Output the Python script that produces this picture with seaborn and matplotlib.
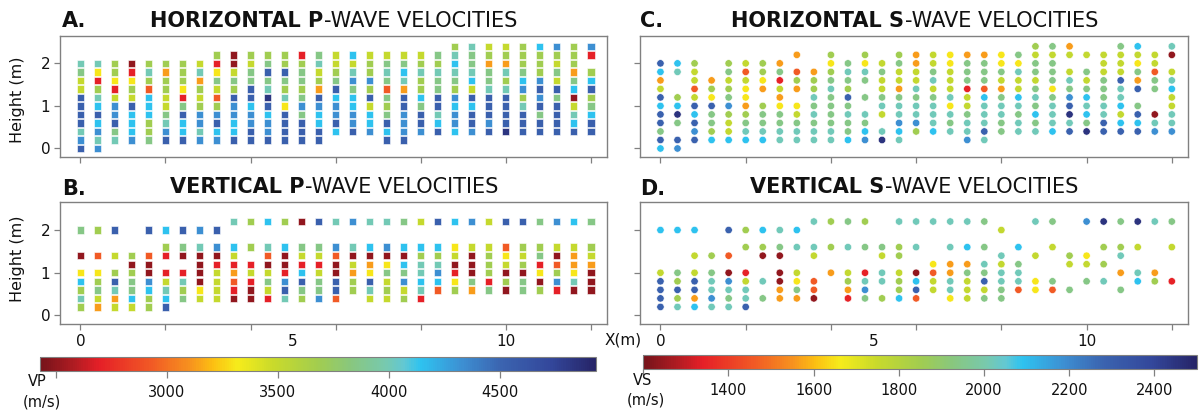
import numpy as np
import pandas as pd
import matplotlib
matplotlib.use("Agg")
import matplotlib.pyplot as plt
import seaborn as sns
from matplotlib.colors import LinearSegmentedColormap, Normalize
from matplotlib.cm import ScalarMappable

sns.set_style("white")
plt.rcParams["font.family"] = ["DejaVu Sans"]

# ---------------- data ----------------
X_POS = [0.0, 0.4, 0.8, 1.2, 1.6, 2.0, 2.4, 2.8, 3.2, 3.6, 4.0, 4.4, 4.8, 5.2, 5.6,
         6.0, 6.4, 6.8, 7.2, 7.6, 8.0, 8.4, 8.8, 9.2, 9.6, 10.0, 10.4, 10.8, 11.2,
         11.6, 12.0]
Y_ROWS = [2.4, 2.2, 2.0, 1.8, 1.6, 1.4, 1.2, 1.0, 0.8, 0.6, 0.4, 0.2, 0.0]

# colour class codes (slow -> fast) and the velocity each class stands for
CODES = "0123456789ABC"
VP_LEVELS = [2500, 2700, 2930, 3130, 3300, 3500, 3680, 3850, 4000, 4140, 4330, 4530, 4830]
VS_LEVELS = [1240, 1345, 1460, 1565, 1655, 1760, 1850, 1940, 2020, 2090, 2190, 2290, 2450]

# one string per x column, read top (2.4 m) to bottom (0 m); '.' = no measurement
HP_COLS = ["..8755BBBB8AB", "..841689B9A8A", "..66415AAB78.", "..01465B999A.",
           "..6862999667.", "..63665578AB.", "..666417B99B.", "..583656AA8A.",
           ".6147526AB9A.", ".00576BAA99B.", ".6577BB9AABB.", ".67B78CB9AAB.",
           ".66B7684BBBB.", ".167767A7BBB.", ".78563BA99BB.", ".5567B9AAB9..",
           ".958A799AAB..", ".566A6B599A..", ".57872767B9B.", ".57983BBAAAB.",
           ".5686697BBA..", ".76877BB89B..", "689876A9AA9..", "877895B9BBA..",
           "563778BBBAB..", "563868BBBBC..", "66679A68BBB..", "9666ABAB7BB..",
           "A6575B7BBBB..", "6663790589B..", "A1.69B679BB.."]
VP_COLS = ["..7..0.49686.", "..6..2.46753.", "..B..5.6B835.", ".....6067795.",
           "..B..200A966.", "..9.61.1589B.", "..B.70.1867..", "..A.8000045..",
           "..B.A015555..", ".8..9513210..", ".6..6.15100..", ".9..8205751..",
           ".6..9001AB8..", ".0..7519B76..", ".B..751577A..", ".8..A200BB2..",
           ".A..805366...", ".8..9034B85..", ".8..A047565..", ".7..9097A56..",
           ".5..9688981..", ".B..968A92...", ".9..450146...", ".A..500073...",
           ".5..566617...", ".B..245060...", ".B..656077...", ".7..671406...",
           ".A..5026A1...", ".9..533480...", ".7..653000..."]
HS_COLS = ["..B935B9BB7B9", "..98..69C7.BA", "..65525B9BAB.", "....364B7769.",
           "..67567A6559.", "..5254436789.", "..6643.67789.", "..3715347788.",
           ".3.263.45788.", "...366878788.", ".64678777788.", "..7876B78779.",
           ".6487.7.879A.", "..5755785.8C.", ".67553788A98.", ".33558788A6..",
           ".5578578889..", ".4455584878..", ".3777155788A.", ".377729888B8.",
           ".4475378877..", ".7485598788..", "65775787978..", "75777478889..",
           "35.587ABC8B..", ".5.7579897C..", ".55577788BB..", "7555B88959B..",
           "95473B.7B9B..", ".55277..08A..", "80.5895588A.."]
VS_COLS = ["..9....5BBBB.", "..9....76B68.", "..9..5.5BB39.", ".....6.788A8.",
           "..B..2.0A878.", "..6.6..1588B.", "..9.60..8.7..", "..8.70.0033..",
           "..9.8..5473..", ".8..85..220..", ".6..6..3.....", ".7..8..5631..",
           ".6..7..18A7..", "....75.88.6..", ".8..66.5669..", ".8..8..09B2..",
           ".8....4255...", ".8..8.33884..", ".8..9.37555..", ".7..7.87B57..",
           "..5..858877..", "....9.7882...", ".8...5..44...", ".7..5...72...",
           ".....65..7...", ".A...45.7....", ".C..6.6.8....", ".7..68.3.7...",
           ".C..5..89....", ".8.....36....", ".7..5...1...."]

VP_RANGE = (2430, 4930)
VS_RANGE = (1200, 2500)
VP_TICKS = [2500, 3000, 3500, 4000, 4500]
VP_TICKLABELS = ["", "3000", "3500", "4000", "4500"]
VS_TICKS = [1200, 1400, 1600, 1800, 2000, 2200, 2400]
VS_TICKLABELS = ["", "1400", "1600", "1800", "2000", "2200", "2400"]


def to_df(cols, levels):
    rows = []
    for xv, col in zip(X_POS, cols):
        for yv, ch in zip(Y_ROWS, col):
            if ch in CODES:
                rows.append((xv, yv, levels[CODES.index(ch)]))
    return pd.DataFrame(rows, columns=["x", "y", "v"])


# ---------------- style ----------------
cmap = LinearSegmentedColormap.from_list("vel", [
    (0.00, "#76131a"), (0.06, "#b01c22"), (0.105, "#e51f27"), (0.20, "#f15a25"),
    (0.27, "#f7931e"), (0.31, "#fcbf12"), (0.355, "#f6ec1b"), (0.42, "#c9da2b"),
    (0.50, "#a2cd4f"), (0.56, "#88c77f"), (0.62, "#78c9ad"), (0.655, "#62c8d3"),
    (0.685, "#2ec3f0"), (0.76, "#3d8fd2"), (0.83, "#3b64b0"), (0.92, "#33479b"),
    (1.00, "#262467")])
normP = Normalize(*VP_RANGE)
normS = Normalize(*VS_RANGE)
GRAY = "#808080"

W, H = 1200, 411
fig = plt.figure(figsize=(W / 100, H / 100), dpi=100)


def ax_px(l, t, r, b):
    return fig.add_axes([l / W, 1 - b / H, (r - l) / W, (b - t) / H])


axA = ax_px(60, 35.7, 607, 157)
axB = ax_px(60, 202.3, 607, 324)
axC = ax_px(640, 35.7, 1188, 157)
axD = ax_px(640, 202.3, 1188, 324)

panels = [
    (axA, HP_COLS, VP_LEVELS, "s", normP, True, False),
    (axB, VP_COLS, VP_LEVELS, "s", normP, True, True),
    (axC, HS_COLS, VS_LEVELS, "o", normS, False, False),
    (axD, VS_COLS, VS_LEVELS, "o", normS, False, True),
]
for ax, cols, levels, mk, norm, left, bottom in panels:
    df = to_df(cols, levels)
    sns.scatterplot(data=df, x="x", y="y", hue="v", palette=cmap,
                    hue_norm=(norm.vmin, norm.vmax), marker=mk, s=28,
                    edgecolor="white", linewidth=0.4, legend=False, ax=ax)
    ax.set_xlim(-0.48, 12.38)
    ax.set_ylim(-0.2, 2.65)
    ax.set_xlabel("")
    ax.set_ylabel("")
    ax.xaxis.remove_overlapping_locs = False
    ax.set_xticks([0, 2, 4, 6, 8, 10, 12])
    ax.set_xticklabels([])
    ax.set_yticks([0, 1, 2])
    for sp in ax.spines.values():
        sp.set_visible(True)
        sp.set_color(GRAY)
        sp.set_linewidth(1.0)
    ax.tick_params(axis="both", which="major", direction="out", length=4,
                   width=0.9, color=GRAY, labelsize=11, pad=3, labelcolor="#111111",
                   bottom=True, left=True)
    if left:
        ax.set_yticklabels(["0", "1", "2"])
    else:
        ax.set_yticklabels([])
    if bottom:
        ax.set_xticks([0, 5, 10], minor=True)
        ax.set_xticklabels(["0", "5", "10"], minor=True)
        ax.tick_params(axis="x", which="minor", length=0, pad=7, labelsize=11,
                       labelcolor="#111111")

# y labels
fig.text(18 / W, 1 - 100 / H, "Height (m)", rotation=90, ha="center", va="center",
         fontsize=11.5, color="#111111")
fig.text(18 / W, 1 - 259 / H, "Height (m)", rotation=90, ha="center", va="center",
         fontsize=11.5, color="#111111")
fig.text(623 / W, 1 - 340 / H, "X(m)", ha="center", va="center", fontsize=11,
         color="#111111")

# panel letters
for lbl, xp, yp in [("A.", 62, 27.3), ("B.", 62, 195), ("C.", 640.5, 27.3), ("D.", 640.5, 195)]:
    fig.text(xp / W, 1 - yp / H, lbl, fontsize=15, fontweight="bold", ha="left",
             va="baseline", color="#111111")

# mixed-weight titles, centred over each panel
renderer = fig.canvas.get_renderer()
titles = [
    (axA, "HORIZONTAL P", "-WAVE VELOCITIES", 26.7),
    (axB, "VERTICAL P", "-WAVE VELOCITIES", 192.7),
    (axC, "HORIZONTAL S", "-WAVE VELOCITIES", 26.7),
    (axD, "VERTICAL S", "-WAVE VELOCITIES", 192.7),
]
for ax, bold, reg, base in titles:
    t1 = fig.text(0, 1 - base / H, bold, fontsize=15, fontweight="bold",
                  ha="left", va="baseline", color="#111111")
    t2 = fig.text(0, 1 - base / H, reg, fontsize=15, fontweight="normal",
                  ha="left", va="baseline", color="#111111")
    w1 = t1.get_window_extent(renderer).width
    w2 = t2.get_window_extent(renderer).width
    bb = ax.get_position()
    cx = (bb.x0 + bb.x1) / 2 * W
    start = cx - (w1 + w2) / 2
    t1.set_x(start / W)
    t2.set_x((start + w1 + 1) / W)

# colour bars
caxP = ax_px(40, 356.7, 596, 370.7)
caxS = ax_px(643.3, 355, 1197, 369)
for cax, norm, ticks, tlabels in [(caxP, normP, VP_TICKS, VP_TICKLABELS),
                                   (caxS, normS, VS_TICKS, VS_TICKLABELS)]:
    cb = fig.colorbar(ScalarMappable(norm=norm, cmap=cmap), cax=cax,
                      orientation="horizontal")
    cb.set_ticks(ticks)
    cb.set_ticklabels(tlabels)
    cb.outline.set_edgecolor(GRAY)
    cb.outline.set_linewidth(0.8)
    cax.tick_params(length=5, width=0.9, color=GRAY, labelsize=10.5, pad=5,
                    labelcolor="#111111")

fig.text(37 / W, 1 - 381.7 / H, "VP", ha="center", va="center", fontsize=10.5, color="#111111")
fig.text(42 / W, 1 - 401.7 / H, "(m/s)", ha="center", va="center", fontsize=10.5, color="#111111")
fig.text(643 / W, 1 - 380.7 / H, "VS", ha="center", va="center", fontsize=10.5, color="#111111")
fig.text(646 / W, 1 - 400 / H, "(m/s)", ha="center", va="center", fontsize=10.5, color="#111111")

fig.savefig("out.png", dpi=100)
